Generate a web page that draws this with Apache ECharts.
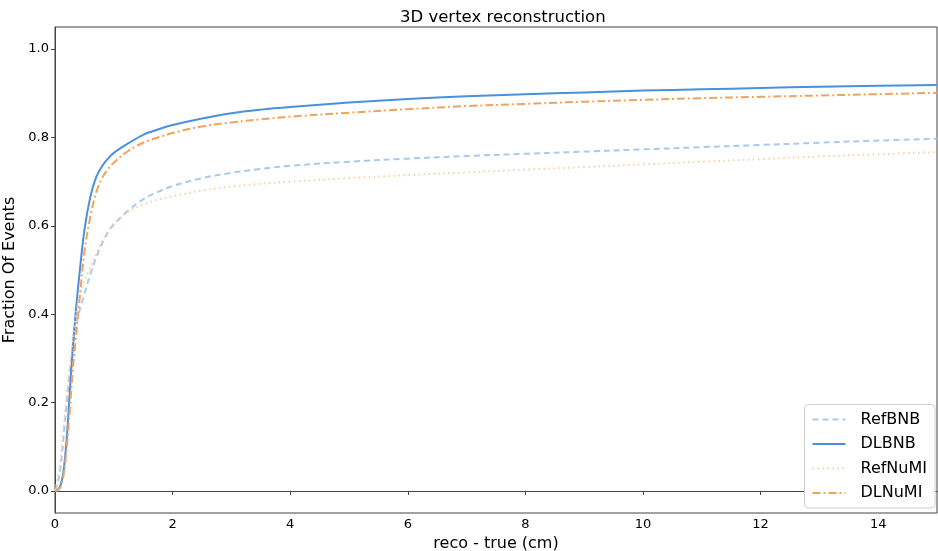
<!DOCTYPE html>
<html><head><meta charset="utf-8">
<script src="https://cdn.jsdelivr.net/npm/echarts@6/dist/echarts.min.js"></script>
<style>html,body{margin:0;padding:0;background:#fff}#c{width:938px;height:551px}</style>
</head><body><div id="c"></div>
<script>
const xs = [0,0.05,0.1,0.15,0.2,0.25,0.3,0.35,0.4,0.5,0.6,0.7,0.8,0.9,1.0,1.25,1.5,1.75,2,2.5,3,3.5,4,5,6,7,8,9,10,11,12,13,14,15];
const refBNB = [0,0.02,0.06,0.13,0.2,0.265,0.32,0.365,0.4,0.445,0.49,0.528,0.56,0.585,0.603,0.635,0.66,0.677,0.69,0.708,0.72,0.729,0.736,0.745,0.752,0.758,0.763,0.768,0.773,0.778,0.783,0.788,0.793,0.797];
const dlBNB = [0,0.003,0.015,0.05,0.12,0.22,0.32,0.4,0.47,0.59,0.665,0.71,0.735,0.752,0.765,0.787,0.806,0.818,0.828,0.843,0.855,0.863,0.869,0.879,0.887,0.893,0.898,0.902,0.906,0.909,0.912,0.915,0.917,0.919];
const refNuMI = [0,0.03,0.08,0.15,0.22,0.285,0.34,0.39,0.43,0.475,0.507,0.537,0.565,0.588,0.605,0.632,0.648,0.659,0.667,0.68,0.689,0.695,0.700,0.708,0.715,0.721,0.727,0.733,0.739,0.745,0.751,0.757,0.762,0.767];
const dlNuMI = [0,0.002,0.01,0.04,0.1,0.18,0.27,0.34,0.41,0.54,0.62,0.675,0.708,0.728,0.743,0.77,0.788,0.8,0.81,0.825,0.834,0.841,0.847,0.856,0.864,0.871,0.876,0.881,0.885,0.889,0.892,0.895,0.898,0.901];
const yTicks = [0,0.2,0.4,0.6,0.8,1.0];
const names = ['RefBNB','DLBNB','RefNuMI','DLNuMI'];

const pair = arr => xs.map((x,i)=>[x,arr[i]]);
const font = 'DejaVu Sans';
const chart = echarts.init(document.getElementById('c'), null, {renderer:'canvas'});
const mk = (name, data, color, type, w) => ({
  name, type:'line', data: pair(data), showSymbol:false, symbol:'none',
  smooth:0.35,
  lineStyle:{color, width:w, type}, itemStyle:{color}
});
chart.setOption({
  animation:false,
  title:{text:'3D vertex reconstruction', left:395, top:4,
    textStyle:{fontFamily:font, fontSize:16.5, fontWeight:'normal', color:'#000'}},
  grid:{left:55, right:1, top:27, bottom:38, show:true, borderColor:'#444', borderWidth:1,
    outerBoundsMode:'none', containLabel:false},
  legend:{
    data:names, orient:'vertical', right:3, bottom:43,
    itemWidth:33, itemHeight:14, itemGap:8.5,
    padding:[7,8,7,7],
    itemStyle:{opacity:0},
    borderColor:'#d0d0d0', borderWidth:1, borderRadius:4, backgroundColor:'#fff',
    textStyle:{fontFamily:font, fontSize:16, color:'#000', padding:[0,0,0,10]}
  },
  xAxis:{type:'value', min:0, max:15, interval:2,
    name:'reco - true (cm)', nameLocation:'middle', nameGap:23,
    nameTextStyle:{fontFamily:font, fontSize:16, color:'#000'},
    axisLine:{show:true, lineStyle:{color:'#444'}},
    axisTick:{show:true, length:4, lineStyle:{color:'#444'}},
    axisLabel:{fontFamily:font, fontSize:13, color:'#000', margin:5, showMaxLabel:false},
    splitLine:{show:false}},
  yAxis:{type:'value', min:-0.05, max:1.05,
    name:'Fraction Of Events', nameLocation:'middle', nameGap:31,
    nameTextStyle:{fontFamily:font, fontSize:16, color:'#000'},
    axisLine:{show:true, lineStyle:{color:'#444'}},
    axisTick:{show:true, length:4, customValues:yTicks, lineStyle:{color:'#444'}},
    axisLabel:{fontFamily:font, fontSize:13, color:'#000', margin:6, customValues:yTicks,
      formatter:v=>v.toFixed(1)},
    splitLine:{show:false}},
  series:[
    mk('RefBNB', refBNB, '#a9c9ee', [6,4], 2),
    mk('DLBNB', dlBNB, '#4a90dc', 'solid', 2),
    mk('RefNuMI', refNuMI, '#fccfa6', [1.5,3.5], 2),
    mk('DLNuMI', dlNuMI, '#f3a25a', [8,3,2,3], 2)
  ]
});
</script></body></html>
